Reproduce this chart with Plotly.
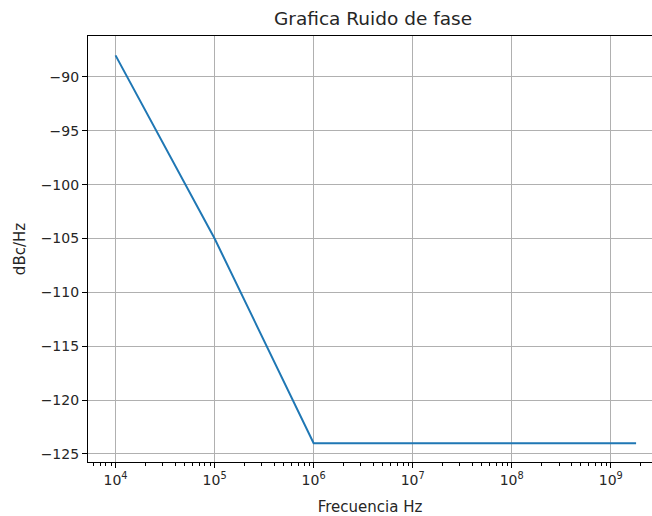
import numpy as np
import plotly.graph_objects as go

# Data
freq_hz = [1e4, 1e5, 1e6, 1.8e9]
noise_dbc = [-88, -105, -124, -124]

x_major = [1e4, 1e5, 1e6, 1e7, 1e8, 1e9]
x_major_text = ["10<sup>4</sup>", "10<sup>5</sup>", "10<sup>6</sup>",
                "10<sup>7</sup>", "10<sup>8</sup>", "10<sup>9</sup>"]
y_major = [-90, -95, -100, -105, -110, -115, -120, -125]

minor_vals = [m * 10.0 ** e for e in range(3, 10) for m in range(2, 10)]

fig = go.Figure()
fig.add_trace(go.Scatter(x=freq_hz, y=noise_dbc, mode="lines",
                         line=dict(color="#1f77b4", width=2)))

font = "DejaVu Sans, sans-serif"
fig.update_layout(
    width=652, height=516,
    margin=dict(l=88, r=0, t=36, b=54),
    paper_bgcolor="white", plot_bgcolor="white",
    showlegend=False,
    font=dict(family=font, size=14, color="#262626"),
    title=dict(text="Grafica Ruido de fase", x=373 / 652, xref="container",
               xanchor="center", y=1 - 19 / 516, yref="container",
               yanchor="middle", font=dict(size=18.5, color="#262626")),
)
fig.update_xaxes(
    type="log", range=[3.722, 9.416],
    tickvals=x_major, ticktext=x_major_text,
    showgrid=True, gridcolor="#b0b0b0", gridwidth=1,
    showline=True, linecolor="black", linewidth=1.2, mirror=True,
    ticks="outside", ticklen=5, tickwidth=1, tickcolor="black",
    minor=dict(tickvals=minor_vals, ticks="outside", ticklen=3,
               tickwidth=0.8, tickcolor="black", showgrid=False),
    zeroline=False,
    title=dict(text="Frecuencia Hz", standoff=15, font=dict(size=15)),
)
fig.update_yaxes(
    range=[-125.75, -86.2],
    tickvals=y_major,
    showgrid=True, gridcolor="#b0b0b0", gridwidth=1,
    showline=True, linecolor="black", linewidth=1.2, mirror=False,
    ticks="outside", ticklen=5, tickwidth=1, tickcolor="black",
    zeroline=False,
    title=dict(text="dBc/Hz", standoff=11, font=dict(size=15)),
)

fig.write_html("out.html")
